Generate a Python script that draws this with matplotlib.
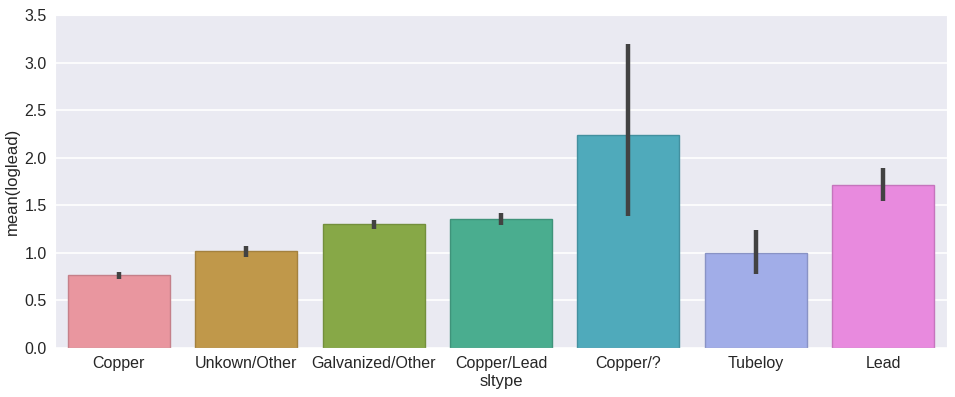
import matplotlib
matplotlib.use("Agg")
import matplotlib.pyplot as plt
import seaborn as sns
import numpy as np

categories = ["Copper", "Unkown/Other", "Galvanized/Other", "Copper/Lead", "Copper/?", "Tubeloy", "Lead"]
means = [0.77, 1.02, 1.30, 1.355, 2.235, 1.00, 1.71]
ci_low = [0.73, 0.96, 1.25, 1.29, 1.39, 0.78, 1.54]
ci_high = [0.80, 1.07, 1.35, 1.42, 3.20, 1.24, 1.89]

sns.set_style("darkgrid")
plt.rcParams['font.family'] = ['Liberation Sans', 'DejaVu Sans']

colors = ["#E9969F", "#C0984A", "#87A847", "#4AAD8F", "#4FAABB", "#A1ADE8", "#E88ADE"]
edges = ["#C5808A", "#A3813F", "#738F3C", "#3F937A", "#43909F", "#8993C5", "#C575BD"]

fig = plt.figure(figsize=(9.55, 3.97), dpi=100)
ax = fig.add_axes([55/955, 1-348/397, (947-55)/955, (348-15)/397])
x = np.arange(len(categories))
ax.bar(x, means, width=0.8, color=colors, edgecolor=edges, linewidth=1.0, zorder=2)
for xi, lo, hi in zip(x, ci_low, ci_high):
    ax.plot([xi, xi], [lo, hi], color="#424242", linewidth=3.2, solid_capstyle="butt", zorder=3)

ax.set_xlim(-0.5, len(categories) - 0.5)
ax.set_ylim(0, 3.5)
ax.set_yticks(np.arange(0, 3.51, 0.5))
ax.set_xticks(x)
ax.set_xticklabels(categories)
ax.tick_params(axis="both", labelsize=11.5, colors="#262626", length=0, pad=6)
ax.set_xlabel("sltype", fontsize=12, color="#262626", labelpad=2)
ax.set_ylabel("mean(loglead)", fontsize=12, color="#262626", labelpad=3)
ax.grid(axis="x", visible=False)
ax.grid(axis="y", color="white", linewidth=1.2)

fig.savefig("out.png", dpi=100)
